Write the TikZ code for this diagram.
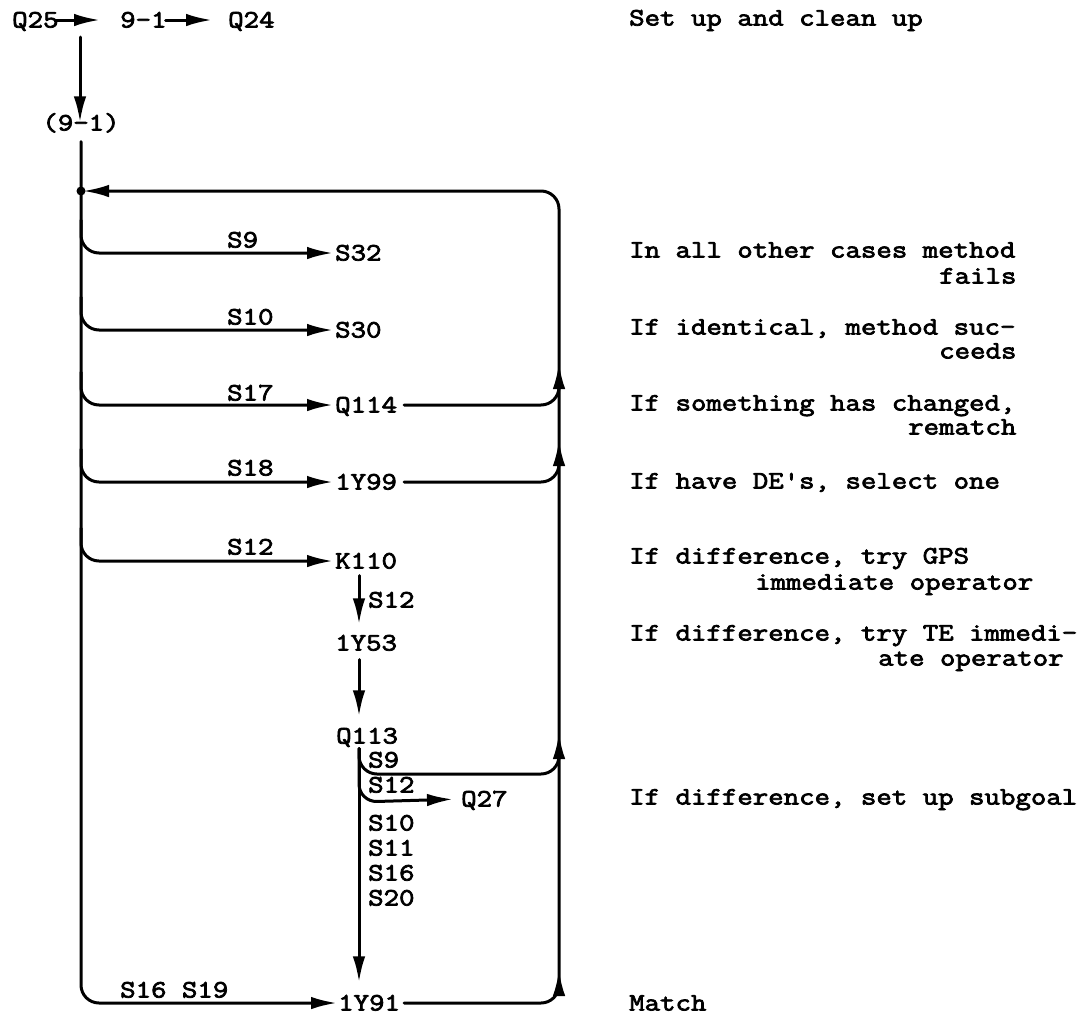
\documentclass[tikz,border=0pt]{standalone}
\usepackage{fontspec}
\newfontfamily\tw{Latin Modern Mono}[FakeStretch=1.2,FakeBold=3]
\usetikzlibrary{arrows.meta}
\begin{document}
\begin{tikzpicture}[x=1pt,y=-1pt,
  lbl/.style={font=\tw\fontsize{25pt}{25pt}\selectfont, inner sep=0pt, anchor=west, text height=15pt, text depth=0pt},
  ln/.style={line width=3pt, line cap=round, line join=round},
  arr/.style={ln, -{Latex[length=26pt,width=12.5pt]}},
  rc/.style={rounded corners=18pt}]
\useasboundingbox[fill=white] (0,0) rectangle (1087,1015);
% top row
\node[lbl] (q25) at (12,20) {Q25};
\node[lbl] (n91) at (120,20) {9-1};
\node[lbl] (q24) at (228,20) {Q24};
\node[lbl,anchor=center] (p91) at (81,123) {(9-1)};
\coordinate (qd) at (80,37);
\draw[arr, shorten <=-3pt, shorten >=20pt] (q25.east) -- (n91.west);
\draw[arr, shorten <=-1pt, shorten >=16pt] (n91.east) -- (q24.west);
\draw[arr, shorten >=-7pt] (qd) -- (p91.north -| qd);
% main nodes
\node[lbl] (s32) at (335,253) {S32};
\node[lbl] (s30) at (335,330) {S30};
\node[lbl] (q114) at (335,405) {Q114};
\node[lbl] (y99) at (335,482) {1Y99};
\node[lbl] (k110) at (335,561) {K110};
\node[lbl] (y53) at (335,643) {1Y53};
\node[lbl] (q113) at (336,736) {Q113};
\node[lbl] (q27) at (461,799) {Q27};
\node[lbl] (y91) at (338,1003) {1Y91};
% branch labels
\node[lbl] (l9) at (227,240) {S9};
\node[lbl] (l10) at (227,317) {S10};
\node[lbl] (l17) at (227,393) {S17};
\node[lbl] (l18) at (227,468) {S18};
\node[lbl] (l12) at (227,547) {S12};
\node[lbl] (l1619) at (120,990) {S16 S19};
\node[lbl] (lk) at (368,600) {S12};
\node[lbl] (m9) at (368,760) {S9};
\node[lbl] (m12) at (368,785) {S12};
\node[lbl] (m10) at (368,823) {S10};
\node[lbl] (m11) at (368,848) {S11};
\node[lbl] (m16) at (368,873) {S16};
\node[lbl] (m20) at (368,898) {S20};
% coordinates
\coordinate (mv) at (81,0);
\coordinate (col) at (359,0);
\coordinate (rv) at (559,0);
\coordinate (dot) at (81,191);
\coordinate (rt) at (559,191);
\coordinate (rb) at (559,1003);
% main vertical
\draw[arr, rc, shorten <=11pt, shorten >=1pt] (p91.south -| mv) -- (81,1003) -- (y91.west);
\fill (dot) circle (4.5pt);
% branches
\draw[arr, rc, shorten >=2pt] (81,220) -- (81,253) -- (s32.west);
\draw[arr, rc, shorten >=2pt] (81,297) -- (81,330) -- (s30.west);
\draw[arr, rc, shorten >=2pt] (81,372) -- (81,405) -- (q114.west);
\draw[arr, rc, shorten >=2pt] (81,449) -- (81,482) -- (y99.west);
\draw[arr, rc, shorten >=2pt] (81,528) -- (81,561) -- (k110.west);
% K110 -> 1Y53 -> Q113 -> 1Y91
\draw[arr, shorten <=7pt, shorten >=11pt] (k110.south -| col) -- (y53.north -| col);
\draw[arr, shorten <=9pt, shorten >=12pt] (y53.south -| col) -- (q113.north -| col);
\draw[arr, shorten <=5pt, shorten >=13pt] (q113.south -| col) -- (y91.north -| col);
\draw[arr, rc, shorten <=5pt] (q113.south -| col) -- (359,774) -- (559,774) -- (559,733);
\draw[arr, rc, shorten <=5pt, shorten >=8pt] (q113.south -| col) -- (359,802) -- (q27.west);
% returns to the right
\draw[arr, rc, shorten <=7pt] (q114.east) -- (q114.east -| rv) -- (559,363);
\draw[arr, rc, shorten <=7pt] (y99.east) -- (y99.east -| rv) -- (559,440);
\draw[arr, rc, shorten <=4pt] (y91.east) -- (rb) -- (559,970);
\draw[arr, rc, shorten >=2pt] (559,985) -- (rt) -- (dot);
% comments
\node[lbl] (c1) at (629,18) {Set up and clean up};
\node[lbl] (c2) at (629,250) {In all other cases method};
\node[lbl] (c2b) at (939,276) {fails};
\node[lbl] (c3) at (629,327) {If identical, method suc-};
\node[lbl] (c3b) at (939,351) {ceeds};
\node[lbl] (c4) at (629,403) {If something has changed,};
\node[lbl] (c4b) at (908,427) {rematch};
\node[lbl] (c5) at (629,481) {If have DE's, select one};
\node[lbl] (c6) at (629,556) {If difference, try GPS};
\node[lbl] (c6b) at (755,582) {immediate operator};
\node[lbl] (c7) at (629,633) {If difference, try TE immedi-};
\node[lbl] (c7b) at (878,658) {ate operator};
\node[lbl] (c8) at (629,797) {If difference, set up subgoal};
\node[lbl] (c9) at (629,1003) {Match};
\end{tikzpicture}
\end{document}
